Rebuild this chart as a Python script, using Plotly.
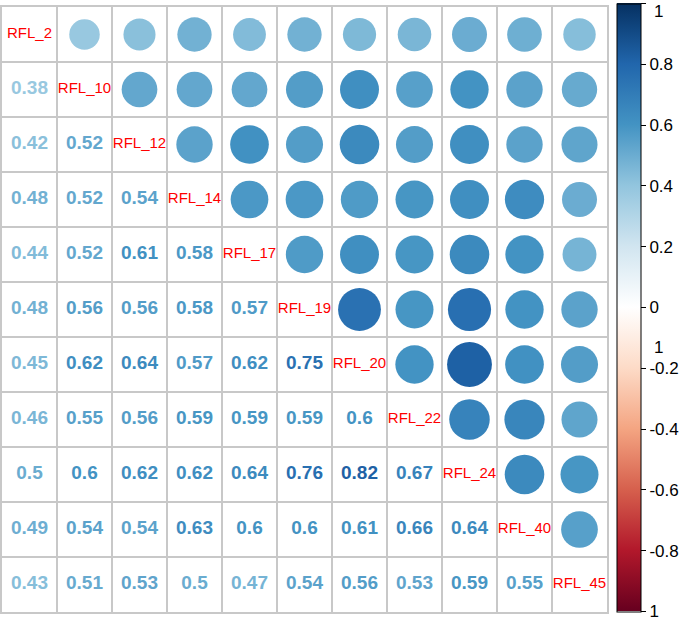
import numpy as np
import plotly.graph_objects as go

labels = ["RFL_2", "RFL_10", "RFL_12", "RFL_14", "RFL_17", "RFL_19",
          "RFL_20", "RFL_22", "RFL_24", "RFL_40", "RFL_45"]

# lower triangle, row by row (row i has i values)
lower = [
    [],
    [0.38],
    [0.42, 0.52],
    [0.48, 0.52, 0.54],
    [0.44, 0.52, 0.61, 0.58],
    [0.48, 0.56, 0.56, 0.58, 0.57],
    [0.45, 0.62, 0.64, 0.57, 0.62, 0.75],
    [0.46, 0.55, 0.56, 0.59, 0.59, 0.59, 0.6],
    [0.5, 0.6, 0.62, 0.62, 0.64, 0.76, 0.82, 0.67],
    [0.49, 0.54, 0.54, 0.63, 0.6, 0.6, 0.61, 0.66, 0.64],
    [0.43, 0.51, 0.53, 0.5, 0.47, 0.54, 0.56, 0.53, 0.59, 0.55],
]

cbar_vals = [-1, -0.8, -0.6, -0.4, -0.2, 0, 0.2, 0.4, 0.6, 0.8, 1]
cbar_text = ["1", "-0.8", "-0.6", "-0.4", "-0.2", "0", "0.2", "0.4", "0.6", "0.8", "1"]

rdbu = ["#67001F", "#B2182B", "#D6604D", "#F4A582", "#FDDBC7", "#FFFFFF",
        "#D1E5F0", "#92C5DE", "#4393C3", "#2166AC", "#053061"]
cscale = [[i / 10, c] for i, c in enumerate(rdbu)]


def col_for(v):
    t = (v + 1) / 2 * 10
    i = min(int(np.floor(t)), 9)
    f = t - i
    a = [int(rdbu[i][k:k + 2], 16) for k in (1, 3, 5)]
    b = [int(rdbu[i + 1][k:k + 2], 16) for k in (1, 3, 5)]
    c = [round(a[j] + (b[j] - a[j]) * f) for j in range(3)]
    return "rgb(%d,%d,%d)" % tuple(c)


n = len(labels)
cell = 55
W, H = 685, 622
ml, mr, mt, mb = 2, 78, 7, 10
pw = W - ml - mr
ph = H - mt - mb
font = "Liberation Sans, Arial"

fig = go.Figure()

# upper triangle circles (mirror of lower)
cx, cy, cv = [], [], []
for i in range(n):
    for j in range(i):
        cx.append(i)
        cy.append(j)
        cv.append(lower[i][j])
sizes = [0.9 * np.sqrt(abs(v)) * cell for v in cv]
fig.add_trace(go.Scatter(
    x=cx, y=cy, mode="markers",
    marker=dict(size=sizes, color=cv, colorscale=cscale, cmin=-1, cmax=1,
                opacity=1, line=dict(width=0),
                colorbar=dict(
                    tickvals=cbar_vals, ticktext=cbar_text,
                    x=(617 - ml) / pw, xanchor="left", xpad=0,
                    y=(H - mb - 307.5) / ph, yanchor="middle",
                    len=608 / ph, ypad=0, thickness=24,
                    outlinecolor="black", outlinewidth=1,
                    ticks="outside", ticklen=5, tickcolor="black",
                    tickfont=dict(size=17, color="black", family=font),
                )),
    hoverinfo="skip", showlegend=False,
))

# lower triangle numbers
tx, ty, tt, tc = [], [], [], []
for i in range(n):
    for j in range(i):
        v = lower[i][j]
        tx.append(j)
        ty.append(i)
        tt.append("<b>%g</b>" % v)
        tc.append(col_for(v))
fig.add_trace(go.Scatter(
    x=tx, y=ty, mode="text", text=tt,
    textfont=dict(size=19, color=tc, family=font),
    hoverinfo="skip", showlegend=False,
))

# diagonal labels
fig.add_trace(go.Scatter(
    x=list(range(n)), y=list(range(n)), mode="text", text=labels,
    textfont=dict(size=15, color="#FF0000", family=font),
    hoverinfo="skip", showlegend=False,
))

# stray "1" on the colorbar, and the top "1" that plotly hides at the edge
for py in (347, 12):
    fig.add_annotation(x=(652 - ml) / pw, y=(H - mb - py) / ph, xref="paper", yref="paper",
                       text="1", showarrow=False, xanchor="left", yanchor="middle",
                       font=dict(size=17, color="black", family=font))

bounds = [k - 0.5 for k in range(n + 1)]
axis_style = dict(tickvals=bounds, showticklabels=False, ticks="",
                  showgrid=True, gridcolor="#c8c8c8", gridwidth=1.5,
                  zeroline=False, showline=True, mirror=True,
                  linecolor="#c8c8c8", linewidth=1.5)
fig.update_xaxes(range=[-0.5, n - 0.5], **axis_style)
fig.update_yaxes(range=[n - 0.5, -0.5], **axis_style)

fig.update_layout(
    width=W, height=H,
    margin=dict(l=ml, r=mr, t=mt, b=mb, autoexpand=False),
    plot_bgcolor="white", paper_bgcolor="white",
    font=dict(family=font),
)

# drop the default 8px body margin so the figure fills the window
fig.write_html("out.html", config={"displayModeBar": False},
               post_script="document.body.style.margin='0px';")
